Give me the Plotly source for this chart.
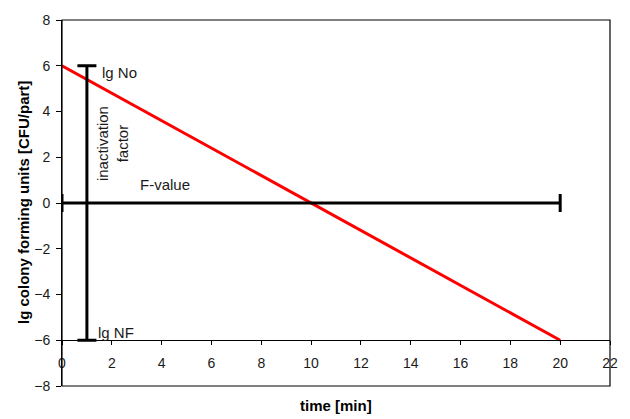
import plotly.graph_objects as go

# data
line_time = [0, 20]
line_lg = [6, -6]
inact_x = [1]
inact_y = [0]
inact_err = [6]
fval_x = [10]
fval_y = [0]
fval_err = [10]
x_ticks = [0, 2, 4, 6, 8, 10, 12, 14, 16, 18, 20, 22]
y_ticks = [-8, -6, -4, -2, 0, 2, 4, 6, 8]

font = "Liberation Sans, Arial, sans-serif"
tcol = "#1a1a1a"

fig = go.Figure()
fig.add_trace(go.Scatter(
    x=line_time, y=line_lg, mode="lines",
    line=dict(color="#ff0000", width=3), showlegend=False, hoverinfo="skip"))
fig.add_trace(go.Scatter(
    x=inact_x, y=inact_y, mode="markers", marker=dict(size=1, opacity=0),
    error_y=dict(type="data", array=inact_err, symmetric=True,
                 color="black", thickness=3, width=9.5),
    showlegend=False, hoverinfo="skip"))
fig.add_trace(go.Scatter(
    x=fval_x, y=fval_y, mode="markers", marker=dict(size=1, opacity=0),
    error_x=dict(type="data", array=fval_err, symmetric=True,
                 color="black", thickness=3, width=9),
    showlegend=False, hoverinfo="skip"))

fig.update_layout(
    width=630, height=419,
    margin=dict(l=62, r=17, t=15, b=33),
    paper_bgcolor="white", plot_bgcolor="white",
    font=dict(family=font, size=14, color=tcol),
    xaxis=dict(range=[0, 22], tickvals=x_ticks, anchor="free", position=0.125,
               showline=True, linecolor="black", linewidth=1,
               ticks="outside", ticklen=4, tickcolor="black",
               ticklabelstandoff=6,
               showgrid=False, zeroline=False,
               tickfont=dict(family=font, size=14, color=tcol)),
    yaxis=dict(range=[-8, 8], tickvals=y_ticks,
               showline=True, linecolor="black", linewidth=1,
               ticks="outside", ticklen=5, tickcolor="black",
               ticklabelstandoff=3,
               showgrid=False, zeroline=False,
               tickfont=dict(family=font, size=14, color=tcol)),
    shapes=[dict(type="rect", xref="paper", yref="paper", x0=0, x1=1, y0=0, y1=1,
                 line=dict(color="black", width=1.2))],
    annotations=[
        dict(text="<b>time [min]</b>", xref="paper", yref="paper", x=0.5, y=0,
             yshift=-19, yanchor="middle", showarrow=False,
             font=dict(family=font, size=15, color="black")),
        dict(text="<b>lg colony forming units [CFU/part]</b>", xref="paper",
             yref="paper", x=0, y=0.5, xshift=-39, textangle=-90,
             xanchor="center", yanchor="middle", showarrow=False,
             font=dict(family=font, size=15, color="black")),
        dict(text="lg No", x=1.54, y=5.72, xanchor="left", yanchor="middle",
             showarrow=False, font=dict(family=font, size=15, color=tcol)),
        dict(text="lg NF", x=1.38, y=-5.65, xanchor="left", yanchor="middle",
             showarrow=False, font=dict(family=font, size=15, color=tcol)),
        dict(text="F-value", x=4.13, y=0.83, xanchor="center", yanchor="middle",
             showarrow=False, font=dict(family=font, size=15, color=tcol)),
        dict(text="inactivation<br>factor", x=2.03, y=2.6, textangle=-90,
             xanchor="center", yanchor="middle", showarrow=False,
             font=dict(family=font, size=15, color=tcol)),
    ],
)

fig.write_html("out.html")
